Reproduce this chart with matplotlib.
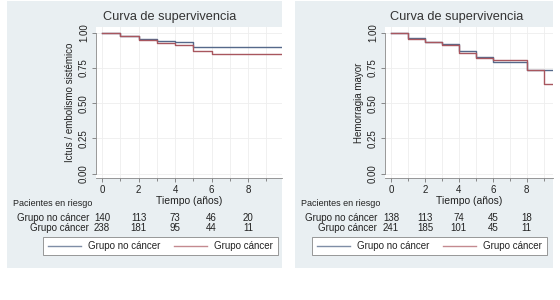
import matplotlib
matplotlib.use("Agg")
import matplotlib.pyplot as plt
import matplotlib.transforms as mtrans
from matplotlib.patches import Rectangle
from matplotlib.lines import Line2D

plt.rcParams['font.family'] = ['Liberation Sans', 'DejaVu Sans']

title = "Curva de supervivencia"
xlabel = "Tiempo (años)"
groups = ["Grupo no cáncer", "Grupo cáncer"]
xticks = [0, 2, 4, 6, 8]
yticks = [0.00, 0.25, 0.50, 0.75, 1.00]

# Panel 1: Ictus / embolismo sistémico
ylabel1 = "Ictus / embolismo sistémico"
t1 = [0, 1, 2, 3, 4, 5, 6, 9.8]
s1_nocancer = [1.0, 0.973, 0.956, 0.944, 0.932, 0.896, 0.896, 0.896]
s1_cancer = [1.0, 0.973, 0.951, 0.925, 0.915, 0.867, 0.852, 0.852]
risk1_nocancer = [140, 113, 73, 46, 20]
risk1_cancer = [238, 181, 95, 44, 11]

# Panel 2: Hemorragia mayor
ylabel2 = "Hemorragia mayor"
t2 = [0, 1, 2, 3, 4, 5, 6, 8, 9, 9.55]
s2_nocancer = [1.0, 0.964, 0.933, 0.917, 0.867, 0.826, 0.795, 0.738, 0.738, 0.738]
s2_cancer = [1.0, 0.957, 0.933, 0.915, 0.857, 0.820, 0.807, 0.738, 0.636, 0.636]
risk2_nocancer = [138, 113, 74, 45, 18]
risk2_cancer = [241, 185, 101, 45, 11]

c_blue = "#55698a"
c_red = "#a8565e"
c_blue_leg = "#7f8ea6"
c_red_leg = "#c48a90"
panel_bg = "#e9eff2"
txt = "#222222"

W, H = 560, 300
fig = plt.figure(figsize=(5.6, 3.0), dpi=100)
fig.patch.set_facecolor("white")

def fx(px):
    return px / W

def fy(py):
    return 1 - py / H

def draw_panel(p):
    fig.patches.append(Rectangle((fx(p['px0']), fy(p['py1'])), fx(p['px1'] - p['px0']),
                                 (p['py1'] - p['py0']) / H, transform=fig.transFigure,
                                 facecolor=panel_bg, edgecolor="none", zorder=-5))
    ax = fig.add_axes([fx(p['ax0']), fy(p['ay1']), fx(p['ax1'] - p['ax0']), (p['ay1'] - p['ay0']) / H])
    ax.set_zorder(1)
    ax.set_facecolor("white")
    ax.step(p['t'], p['s_nc'], where='post', color=c_blue, lw=1.0, zorder=3)
    ax.step(p['t'], p['s_c'], where='post', color=c_red, lw=1.0, zorder=3)
    ax.set_xlim(p['xlim'])
    ax.set_ylim(-0.03, 1.04)
    ax.set_xticks(xticks)
    ax.set_xticks(range(0, 10), minor=True)
    ax.set_yticks(yticks)
    ax.set_yticklabels([f"{v:.2f}" for v in yticks], rotation=90, va='center')
    ax.tick_params(axis='both', labelsize=7, colors="#777777", labelcolor=txt, length=3, width=0.6, pad=2)
    ax.tick_params(axis='x', which='minor', length=2, width=0.6, colors="#777777")
    ax.grid(True, which='both', color="#eeeeee", lw=0.6, zorder=0)
    for side in ['top', 'right']:
        ax.spines[side].set_visible(False)
    for side in ['left', 'bottom']:
        ax.spines[side].set_color("#888888")
        ax.spines[side].set_linewidth(0.6)
    ax.spines['left'].set_bounds(0, 1)
    ax.set_xlabel(xlabel, fontsize=7.5, color=txt, labelpad=1)
    ax.set_ylabel(p['ylabel'], fontsize=7, color=txt, labelpad=3)
    fig.text(fx(p['title_x']), fy(p['title_y']), title, ha='center', va='center',
             fontsize=9.2, color="#333333")
    # risk table
    fig.text(fx(p['px0'] + 6), fy(204), "Pacientes en riesgo", ha='left', va='center', fontsize=6.5, color=txt)
    tr = mtrans.blended_transform_factory(ax.transData, fig.transFigure)
    fig.text(fx(p['lab_x']), fy(218), groups[0], ha='right', va='center', fontsize=7, color=txt)
    fig.text(fx(p['lab_x']), fy(228), groups[1], ha='right', va='center', fontsize=7, color=txt)
    for xv, a, b in zip(xticks, p['r_nc'], p['r_c']):
        ax.text(xv, fy(218), str(a), transform=tr, ha='center', va='center', fontsize=7,
                color=txt, clip_on=False)
        ax.text(xv, fy(228), str(b), transform=tr, ha='center', va='center', fontsize=7,
                color=txt, clip_on=False)
    # legend box
    lx0, lx1, ly0, ly1 = p['leg']
    fig.patches.append(Rectangle((fx(lx0), fy(ly1)), fx(lx1 - lx0), (ly1 - ly0) / H,
                                 transform=fig.transFigure, facecolor="white",
                                 edgecolor="#888888", lw=0.6, zorder=1))
    ym = fy((ly0 + ly1) / 2)
    for i, (col, lab) in enumerate([(c_blue_leg, groups[0]), (c_red_leg, groups[1])]):
        s = lx0 + 5 + i * 126
        fig.add_artist(Line2D([fx(s), fx(s + 33)], [ym, ym], transform=fig.transFigure,
                              color=col, lw=1.0, zorder=2))
        fig.text(fx(s + 40), ym, lab, ha='left', va='center', fontsize=7, color=txt, zorder=3)
    return ax

panels = [
    dict(px0=7, px1=282, py0=1, py1=268, ax0=96, ax1=282, ay0=27, ay1=178,
         t=t1, s_nc=s1_nocancer, s_c=s1_cancer, xlim=(-0.33, 9.85), ylabel=ylabel1,
         title_x=170, title_y=17, lab_x=89, r_nc=risk1_nocancer, r_c=risk1_cancer,
         leg=(43, 278, 237, 255)),
    dict(px0=295, px1=553, py0=1, py1=268, ax0=385, ax1=553, ay0=27, ay1=178,
         t=t2, s_nc=s2_nocancer, s_c=s2_cancer, xlim=(-0.35, 9.55), ylabel=ylabel2,
         title_x=457, title_y=17, lab_x=377, r_nc=risk2_nocancer, r_c=risk2_cancer,
         leg=(312, 547, 237, 255)),
]
for p in panels:
    draw_panel(p)

fig.savefig("out.png", dpi=100, facecolor="white")
